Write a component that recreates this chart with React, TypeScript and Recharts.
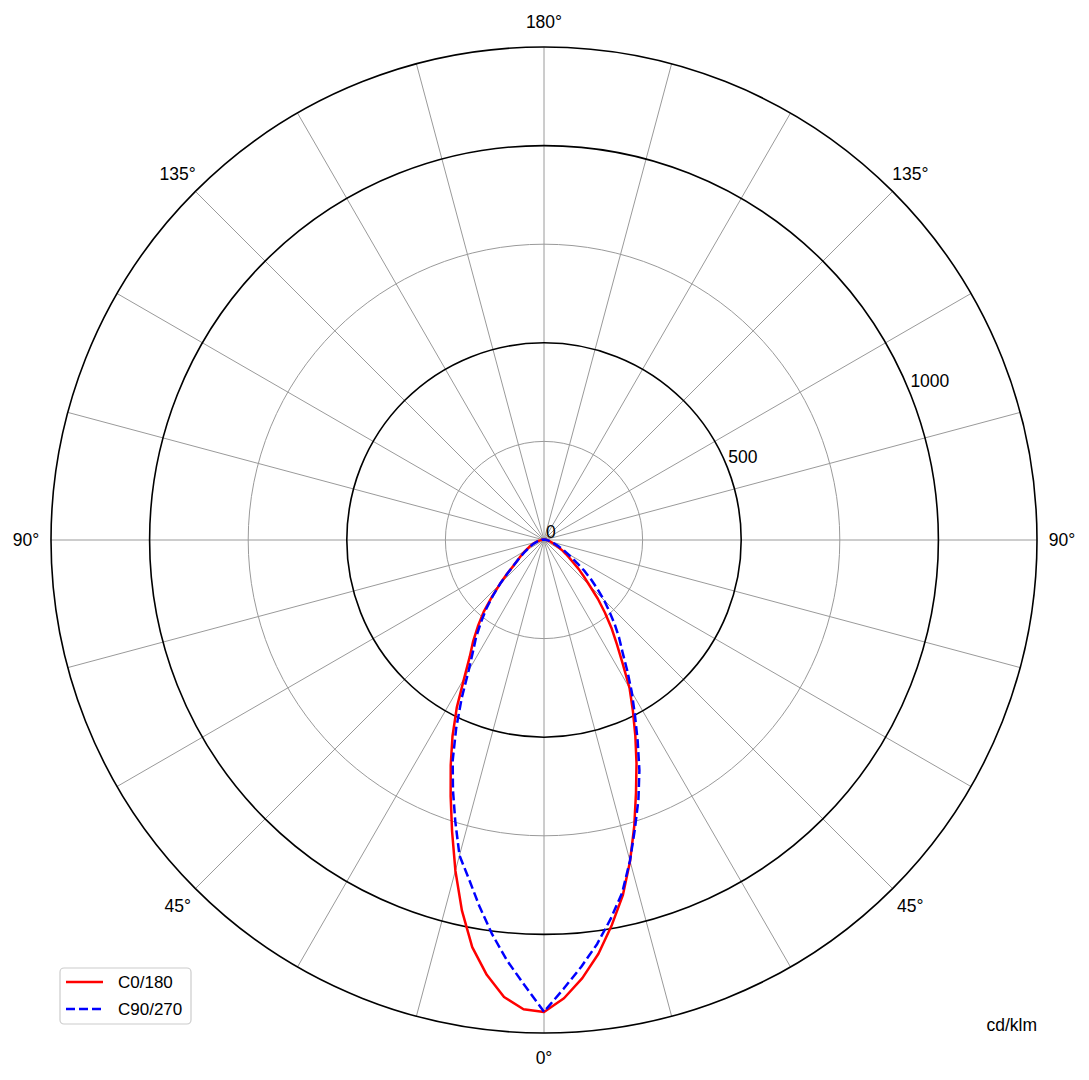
import React from "react";
import { RadarChart, Radar, PolarGrid, PolarAngleAxis, PolarRadiusAxis } from "recharts";

// gamma angles (deg from nadir) for each half-plane
const GAMMA = [
  0, 2.5, 5, 7.5, 10, 12.5, 15, 17.5, 20, 22.5, 25, 27.5, 30, 32.5, 35, 37.5, 40, 42.5, 45, 47.5,
  50, 52.5, 55, 57.5, 60, 62.5, 65, 67.5, 70, 72.5, 75, 77.5, 80, 82.5, 85, 87.5, 90, 92.5, 95, 97.5,
  100, 102.5, 105, 107.5, 110, 112.5, 115, 117.5, 120, 122.5, 125, 127.5, 130, 132.5, 135, 137.5,
  140, 142.5, 145, 147.5, 150, 152.5, 155, 157.5, 160, 162.5, 165, 167.5, 170, 172.5, 175, 177.5, 180,
];

// cd/klm, C0 plane (right half)
const C0 = [
  1197, 1163, 1115, 1058, 991, 923, 843, 761, 682, 613, 548, 488, 434, 371, 322, 281, 240, 202, 164, 137,
  115, 92, 78, 65, 55, 44, 36, 29, 24, 20, 17, 14, 12, 10, 9, 8, 7, 6, 5, 5,
  4, 4, 3, 3, 3, 2, 2, 2, 2, 2, 2, 2, 1, 1, 1, 1,
  1, 1, 1, 1, 1, 1, 1, 1, 1, 1, 1, 1, 1, 1, 1, 1, 1,
];
// C180 plane (left half)
const C180 = [
  1197, 1191, 1163, 1112, 1048, 962, 868, 775, 692, 618, 549, 479, 405, 350, 313, 275, 238, 195, 158, 127,
  100, 85, 73, 63, 55, 47, 41, 35, 30, 26, 22, 18, 15, 12, 10, 9, 8, 6, 5, 5,
  4, 4, 3, 3, 3, 2, 2, 2, 2, 2, 2, 2, 1, 1, 1, 1,
  1, 1, 1, 1, 1, 1, 1, 1, 1, 1, 1, 1, 1, 1, 1, 1, 1,
];
// C90 plane (right half)
const C90 = [
  1196, 1139, 1086, 1033, 975, 916, 842, 767, 700, 632, 562, 499, 445, 393, 347, 313, 279, 245, 215, 184,
  156, 130, 104, 84, 68, 56, 45, 37, 30, 25, 20, 17, 14, 12, 10, 8, 7, 6, 5, 5,
  4, 4, 3, 3, 3, 2, 2, 2, 2, 2, 2, 2, 1, 1, 1, 1,
  1, 1, 1, 1, 1, 1, 1, 1, 1, 1, 1, 1, 1, 1, 1, 1, 1,
];
// C270 plane (left half)
const C270 = [
  1196, 1130, 1071, 1008, 943, 880, 828, 748, 675, 605, 527, 452, 382, 335, 300, 262, 228, 192, 158, 125,
  100, 84, 70, 60, 50, 44, 38, 33, 28, 24, 20, 17, 14, 12, 10, 8, 7, 6, 5, 5,
  4, 4, 3, 3, 3, 2, 2, 2, 2, 2, 2, 2, 1, 1, 1, 1,
  1, 1, 1, 1, 1, 1, 1, 1, 1, 1, 1, 1, 1, 1, 1, 1, 1,
];

const R_MAX = 1250;
const GREY_RINGS = [250, 750];
const BLACK_RINGS = [500, 1000, 1250];
const R_TICKS = [0, 500, 1000];
const SPOKES = [0, 15, 30, 45, 60, 75, 90, 105, 120, 135, 150, 165, 180, 195, 210, 225, 240, 255, 270, 285, 300, 315, 330, 345];

const W = 1089;
const H = 1080;
const CX = 544;
const CY = 540;
const OUTER = 493;
const FONT = '"Liberation Sans", Arial, Helvetica, sans-serif';
const FS = 17.5;

// angles run clockwise from the nadir: first half is the left side, then back up the right side
const rows = [
  ...GAMMA.map((g, i) => ({ angle: g, c0: C180[i], c90: C270[i] })),
  ...GAMMA.slice(1, -1)
    .map((g, i) => ({ angle: 360 - g, c0: C0[i + 1], c90: C90[i + 1] }))
    .reverse(),
];

const ringPx = (v: number) => (v / R_MAX) * OUTER;

function AngleTick(props: any) {
  const { x, y, payload } = props;
  const t = Number(payload.value);
  if (t % 45 !== 0) return <g />;
  const g = t <= 180 ? t : 360 - t;
  return (
    <text x={x} y={y} textAnchor="middle" dominantBaseline="central" fontSize={FS} fontFamily={FONT} fill="#000">
      {g}°
    </text>
  );
}

function RadiusTick(props: any) {
  const { x, y, payload } = props;
  return (
    <text x={x + 2} y={y - 2} textAnchor="start" fontSize={FS} fontFamily={FONT} fill="#000">
      {payload.value}
    </text>
  );
}

export default function App() {
  return (
    <div style={{ position: "absolute", left: 0, top: 0, width: W, height: H, background: "#fff", fontFamily: FONT }}>
      <RadarChart
        width={W}
        height={H}
        cx={CX}
        cy={CY}
        outerRadius={OUTER}
        startAngle={-90}
        endAngle={-450}
        data={rows}
        margin={{ top: 0, right: 0, bottom: 0, left: 0 }}
      >
        <PolarGrid gridType="circle" polarAngles={SPOKES} polarRadius={GREY_RINGS.map(ringPx)} stroke="#9a9a9a" strokeWidth={1} />
        <PolarGrid gridType="circle" radialLines={false} polarAngles={[]} polarRadius={BLACK_RINGS.map(ringPx)} stroke="#000" strokeWidth={1.6} />
        <PolarAngleAxis dataKey="angle" tick={(p: any) => <AngleTick {...p} />} tickLine={false} axisLine={false} tickSize={25} />
        <PolarRadiusAxis
          type="number"
          angle={22.5}
          domain={[0, R_MAX]}
          ticks={R_TICKS}
          tick={(p: any) => <RadiusTick {...p} />}
          axisLine={false}
          tickLine={false}
        />
        <Radar dataKey="c0" name="C0/180" stroke="#ff0000" strokeWidth={2.5} fill="none" fillOpacity={0} strokeLinejoin="round" dot={false} isAnimationActive={false} />
        <Radar dataKey="c90" name="C90/270" stroke="#0000ff" strokeWidth={2.5} strokeDasharray="9 4" fill="none" fillOpacity={0} strokeLinejoin="round" dot={false} isAnimationActive={false} />
      </RadarChart>

      <svg width={W} height={H} style={{ position: "absolute", left: 0, top: 0, pointerEvents: "none" }}>
        <rect x={60} y={968} width={131} height={56} rx={4} fill="#fff" fillOpacity={0.8} stroke="#cccccc" strokeWidth={1.2} />
        <line x1={66} x2={103} y1={982} y2={982} stroke="#ff0000" strokeWidth={2.5} />
        <text x={118} y={982} dominantBaseline="central" fontSize={17} fontFamily={FONT} fill="#000">C0/180</text>
        <line x1={66} x2={103} y1={1009} y2={1009} stroke="#0000ff" strokeWidth={2.5} strokeDasharray="9 4" />
        <text x={118} y={1009} dominantBaseline="central" fontSize={17} fontFamily={FONT} fill="#000">C90/270</text>
        <text x={1037} y={1031} textAnchor="end" fontSize={FS} fontFamily={FONT} fill="#000">cd/klm</text>
      </svg>
    </div>
  );
}
